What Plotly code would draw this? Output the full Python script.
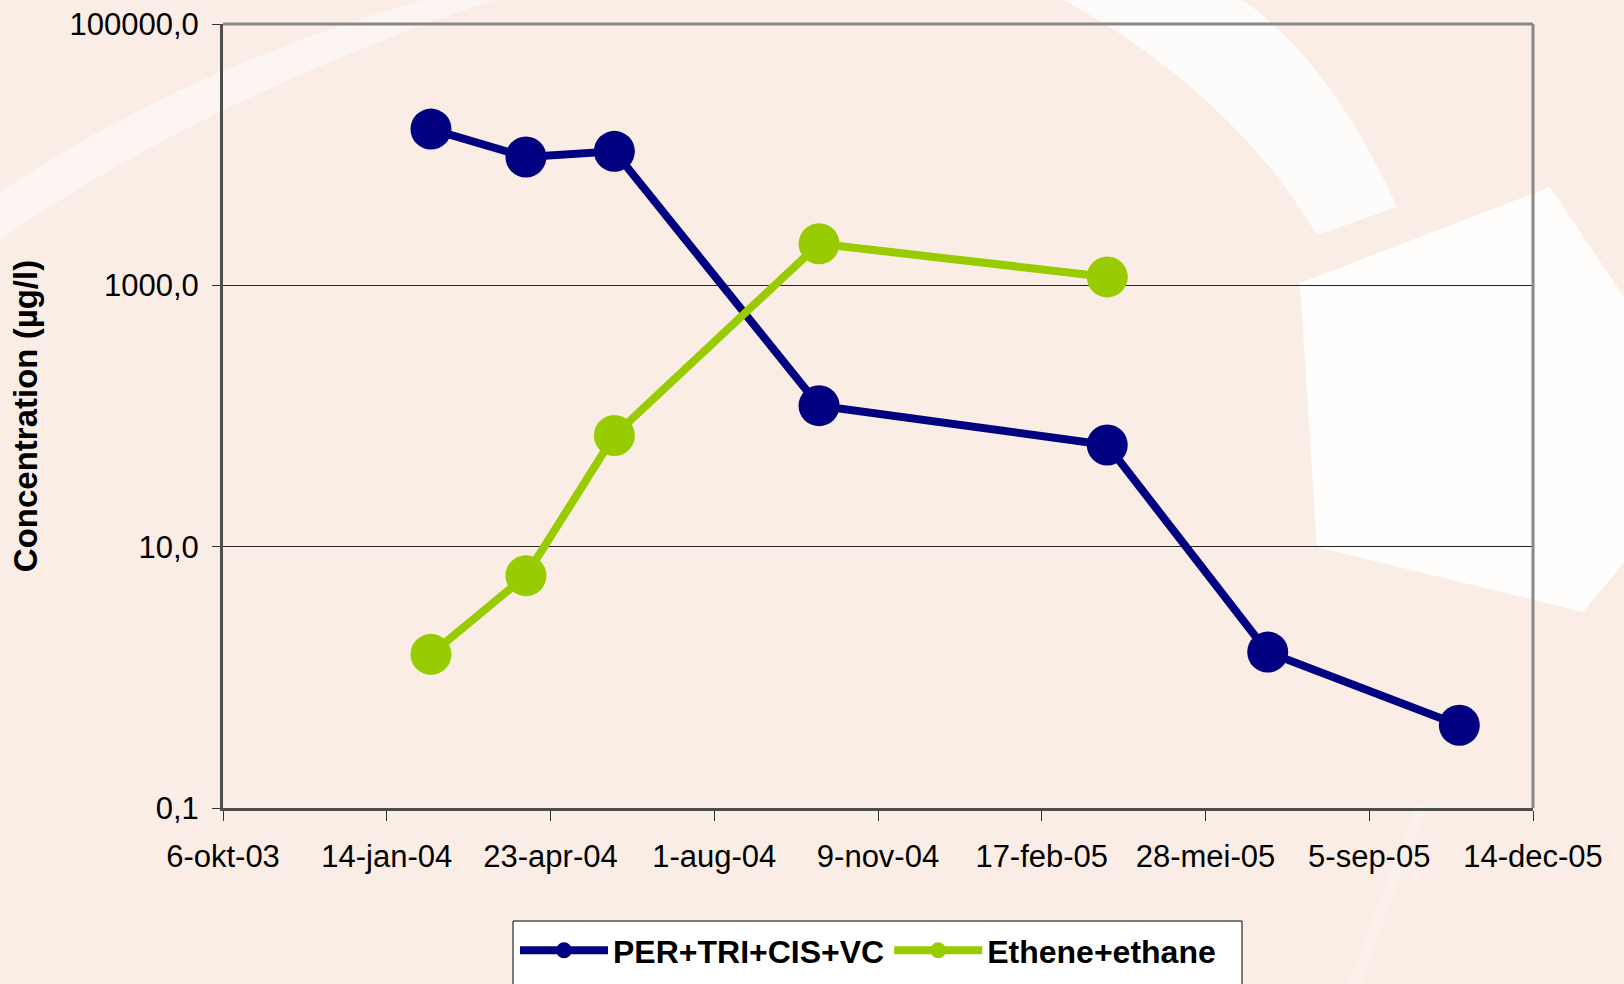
import plotly.graph_objects as go

# --- data ---------------------------------------------------------------
chlor_dates = ["2004-02-10", "2004-04-08", "2004-06-01", "2004-10-04",
               "2005-03-29", "2005-07-05", "2005-10-30"]
chlor_values = [15700, 9600, 10600, 120, 60, 1.56, 0.43]

ethene_dates = ["2004-02-10", "2004-04-08", "2004-06-01", "2004-10-04",
                "2005-03-29"]
ethene_values = [1.5, 6.0, 71, 2080, 1160]

x_tick_dates = ["2003-10-06", "2004-01-14", "2004-04-23", "2004-08-01",
                "2004-11-09", "2005-02-17", "2005-05-28", "2005-09-05",
                "2005-12-14"]
x_tick_labels = ["6-okt-03", "14-jan-04", "23-apr-04", "1-aug-04",
                 "9-nov-04", "17-feb-05", "28-mei-05", "5-sep-05",
                 "14-dec-05"]

y_tick_values = [0.1, 10, 1000, 100000]
y_tick_labels = ["0,1", "10,0", "1000,0", "100000,0"]

series_names = ["PER+TRI+CIS+VC", "Ethene+ethane"]

# --- page geometry (pixels) ---------------------------------------------
W, H = 1624, 984
PL, PR, PT, PB = 223, 1533, 24, 808   # plot area edges


def px(x):
    return (x - PL) / (PR - PL)


def py(y):
    return (PB - y) / (PB - PT)


def path(points, close=True):
    s = "M" + " L".join(f"{px(x):.4f},{py(y):.4f}" for x, y in points)
    return s + (" Z" if close else "")


def qpath(segs):
    # segs: list of ("M"/"L", (x,y)) or ("Q", (cx,cy), (x,y))
    out = []
    for s in segs:
        if s[0] in ("M", "L"):
            out.append(f"{s[0]}{px(s[1][0]):.4f},{py(s[1][1]):.4f}")
        else:
            c, e = s[1], s[2]
            out.append(f"Q{px(c[0]):.4f},{py(c[1]):.4f} {px(e[0]):.4f},{py(e[1]):.4f}")
    return " ".join(out) + " Z"


BG = "#FAEDE5"
FONT = "Liberation Sans, Arial, sans-serif"

fig = go.Figure()

fig.add_trace(go.Scatter(
    x=chlor_dates, y=chlor_values, name=series_names[0],
    mode="lines+markers",
    line=dict(color="#000080", width=8),
    marker=dict(color="#000080", size=41, line=dict(width=0)),
))
fig.add_trace(go.Scatter(
    x=ethene_dates, y=ethene_values, name=series_names[1],
    mode="lines+markers",
    line=dict(color="#99CC00", width=8),
    marker=dict(color="#99CC00", size=41, line=dict(width=0)),
))

shapes = []
# soft white watermark swooshes in the background
shapes.append(dict(type="path", xref="paper", yref="paper", layer="below",
                   path=qpath([("M", (0, 192)), ("Q", (190, 65), (430, -2)),
                               ("L", (500, -2)), ("Q", (200, 100), (0, 240))]),
                   fillcolor="rgba(255,255,255,0.45)", line=dict(width=0)))
shapes.append(dict(type="path", xref="paper", yref="paper", layer="below",
                   path=qpath([("M", (1060, -2)), ("Q", (1230, 90), (1317, 235)),
                               ("L", (1397, 207)), ("Q", (1330, 60), (1240, -2))]),
                   fillcolor="rgba(255,255,255,0.8)", line=dict(width=0)))
shapes.append(dict(type="path", xref="paper", yref="paper", layer="below",
                   path=path([(1300, 283), (1550, 187), (1626, 300),
                              (1626, 560), (1583, 612), (1317, 547)]),
                   fillcolor="rgba(255,255,255,0.93)", line=dict(width=0)))
shapes.append(dict(type="path", xref="paper", yref="paper", layer="below",
                   path=path([(1416, 805), (1426, 805), (1360, 986), (1348, 986)]),
                   fillcolor="rgba(255,255,255,0.25)", line=dict(width=0)))

# top and right frame of the plot area
shapes.append(dict(type="line", xref="paper", yref="paper",
                   x0=0, x1=1, y0=1, y1=1, line=dict(color="#888888", width=3)))
shapes.append(dict(type="line", xref="paper", yref="paper",
                   x0=1, x1=1, y0=0, y1=1, line=dict(color="#888888", width=3)))

# legend box (runs off the bottom of the page)
shapes.append(dict(type="rect", xref="paper", yref="paper", layer="above",
                   x0=px(513), x1=px(1242), y0=py(1000), y1=py(921),
                   fillcolor="white", line=dict(color="black", width=1)))

fig.update_layout(
    width=W, height=H,
    margin=dict(l=PL, r=W - PR, t=PT, b=H - PB, pad=0, autoexpand=False),
    paper_bgcolor=BG, plot_bgcolor="rgba(0,0,0,0)",
    font=dict(family=FONT, color="black"),
    shapes=shapes,
    showlegend=True,
    legend=dict(orientation="h", x=px(515), y=py(923),
                xanchor="left", yanchor="top",
                bgcolor="rgba(0,0,0,0)", borderwidth=0,
                font=dict(family=FONT, size=32, color="black", weight="bold"),
                itemwidth=88, tracegroupgap=0),
)

fig.update_xaxes(
    type="date", range=[x_tick_dates[0], x_tick_dates[-1]],
    tickmode="array", tickvals=x_tick_dates, ticktext=x_tick_labels,
    tickfont=dict(family=FONT, size=31, color="black"),
    ticks="outside", ticklen=10, tickwidth=1, tickcolor="#333333",
    showline=True, linecolor="#4d4d4d", linewidth=3,
    showgrid=False, zeroline=False, ticklabelstandoff=9,
    automargin=False,
)
fig.update_yaxes(
    type="log", range=[-1, 5],
    tickmode="array", tickvals=y_tick_values, ticktext=y_tick_labels,
    tickfont=dict(family=FONT, size=31, color="black"),
    ticks="outside", ticklen=8, tickwidth=1, tickcolor="#333333",
    showline=True, linecolor="#4d4d4d", linewidth=3,
    showgrid=True, gridcolor="#222222", gridwidth=1, zeroline=False,
    ticklabelstandoff=7, automargin=False,
    title=dict(text="Concentration (µg/l)", standoff=22,
               font=dict(family=FONT, size=33, color="black", weight="bold")),
)

fig.write_html("out.html")
